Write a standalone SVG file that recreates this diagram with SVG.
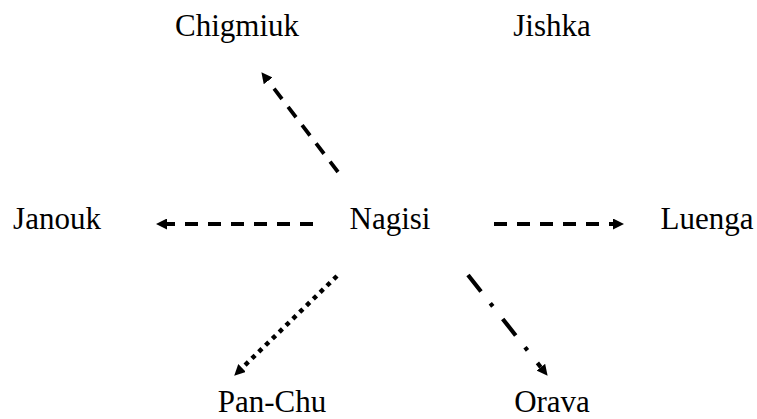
<svg xmlns="http://www.w3.org/2000/svg" width="757" height="419" viewBox="0 0 757 419">
  <defs>
    <style>
      .lbl { font-size: 31px; fill: #000; text-anchor: middle; }
      .edge { fill: none; stroke: #000; stroke-width: 3.8; }
      .dashed { stroke-dasharray: 13 10; }
      .dotted { stroke-width: 4.5; stroke-dasharray: 4.5 5; }
      .dashdot { stroke-width: 4.2; stroke-dasharray: 21 15 4 16; }
    </style>
    <marker id="arrow" viewBox="0 0 10 10" refX="0" refY="5" markerWidth="11" markerHeight="11" markerUnits="userSpaceOnUse" orient="auto">
      <path d="M0,0 L10,5 L0,10 z" fill="#000"/>
    </marker>
  </defs>
  <rect width="757" height="419" fill="#fff"/>
  <g id="connectors">
    <line class="edge dashed" x1="338" y1="172" x2="268.1" y2="80.9" marker-end="url(#arrow)"/>
    <line class="edge dashed" x1="313" y1="224" x2="167" y2="224" marker-end="url(#arrow)"/>
    <line class="edge dashed" x1="494" y1="224" x2="613" y2="224" marker-end="url(#arrow)"/>
    <line class="edge dotted" x1="337" y1="276" x2="242.1" y2="368" marker-end="url(#arrow)"/>
    <line class="edge dashdot" x1="468" y1="275" x2="540.8" y2="367.2" marker-end="url(#arrow)"/>
  </g>
  <g font-family="Liberation Serif, Times New Roman, serif">
    <g id="node-chigmiuk"><text class="lbl" x="237" y="36">Chigmiuk</text></g>
    <g id="node-jishka"><text class="lbl" x="552" y="36">Jishka</text></g>
    <g id="node-janouk"><text class="lbl" x="57" y="229">Janouk</text></g>
    <g id="node-nagisi"><text class="lbl" x="390" y="229">Nagisi</text></g>
    <g id="node-luenga"><text class="lbl" x="707" y="229">Luenga</text></g>
    <g id="node-panchu"><text class="lbl" x="272" y="412">Pan-Chu</text></g>
    <g id="node-orava"><text class="lbl" x="552" y="412">Orava</text></g>
  </g>
</svg>
